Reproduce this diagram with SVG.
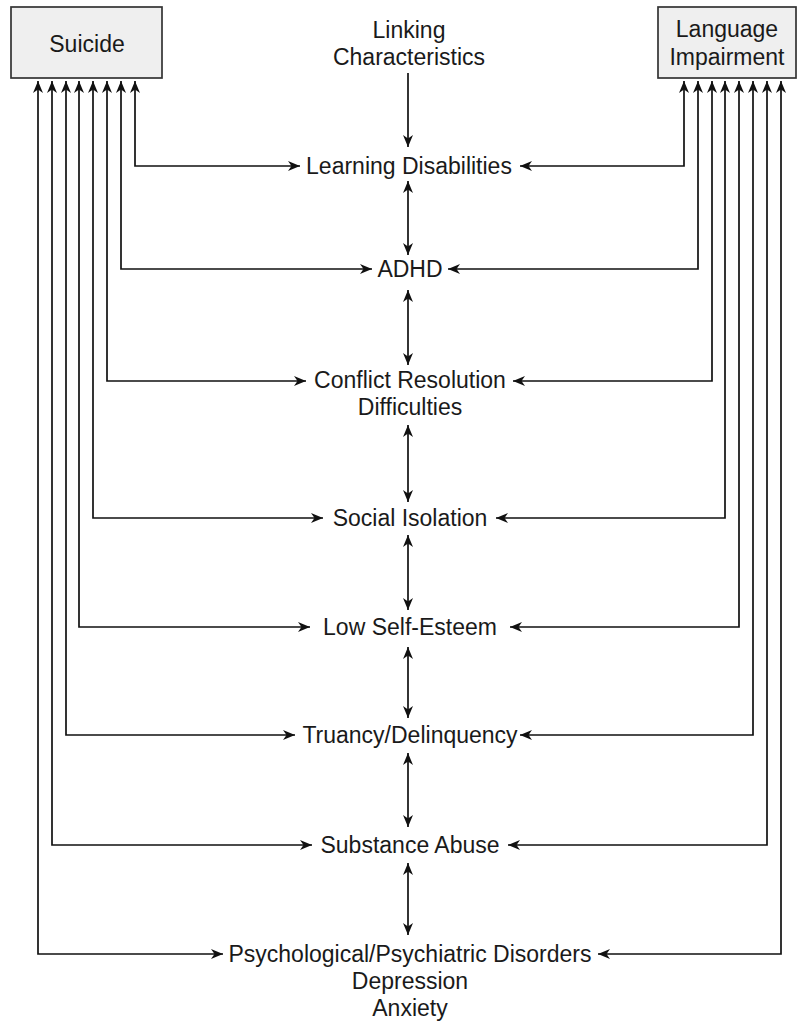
<svg xmlns="http://www.w3.org/2000/svg" width="797" height="1022" viewBox="0 0 797 1022">
<style>
.t{font-family:"Liberation Sans",Arial,sans-serif;font-size:23px;fill:#1a1a1a;text-anchor:middle}
.box{fill:#efefef;stroke:#333;stroke-width:1.7}
.c{fill:none;stroke:#111;stroke-width:1.7}
.b{marker-start:url(#ah);marker-end:url(#ah)}
.e{marker-end:url(#ah)}
</style>
<defs>
<marker id="ah" viewBox="0 0 12 11" refX="12" refY="5.5" markerWidth="12" markerHeight="11" markerUnits="userSpaceOnUse" orient="auto-start-reverse">
<path d="M0,0.5 L12,5.5 L0,10.5 L3.5,5.5 z" fill="#111"/>
</marker>
</defs>
<rect width="797" height="1022" fill="#fff"/>
<g id="suicide"><rect class="box" x="11" y="7" width="151" height="71"/><text class="t" x="87" y="52">Suicide</text></g>
<g id="language"><rect class="box" x="658" y="7" width="138" height="71"/><text class="t" x="727" y="37">Language</text><text class="t" x="727" y="65">Impairment</text></g>
<g id="linking"><text class="t" x="409" y="38">Linking</text><text class="t" x="409" y="65">Characteristics</text></g>
<g id="ld"><text class="t" x="409" y="174">Learning Disabilities</text></g>
<g id="adhd"><text class="t" x="410" y="277">ADHD</text></g>
<g id="conflict"><text class="t" x="410" y="388">Conflict Resolution</text><text class="t" x="410" y="415">Difficulties</text></g>
<g id="social"><text class="t" x="410" y="526">Social Isolation</text></g>
<g id="lowse"><text class="t" x="410" y="635">Low Self-Esteem</text></g>
<g id="truancy"><text class="t" x="410" y="743">Truancy/Delinquency</text></g>
<g id="substance"><text class="t" x="410" y="853">Substance Abuse</text></g>
<g id="psych"><text class="t" x="410" y="962">Psychological/Psychiatric Disorders</text><text class="t" x="410" y="989">Depression</text><text class="t" x="410" y="1016">Anxiety</text></g>
<g id="connectors">
<path class="c e" d="M408,73 V147"/>
<path class="c b" d="M408,181 V255"/>
<path class="c b" d="M408,290 V365"/>
<path class="c b" d="M408,425 V502"/>
<path class="c b" d="M408,535 V610"/>
<path class="c b" d="M408,647 V718"/>
<path class="c b" d="M408,753 V827"/>
<path class="c b" d="M408,863 V935"/>
<path class="c b" d="M300,166 H135 V81"/>
<path class="c b" d="M372,269 H121 V81"/>
<path class="c b" d="M306,381 H107 V81"/>
<path class="c b" d="M323,518 H93 V81"/>
<path class="c b" d="M310,627 H79 V81"/>
<path class="c b" d="M295,735 H66 V81"/>
<path class="c b" d="M312,845 H52 V81"/>
<path class="c b" d="M223,954 H38 V81"/>
<path class="c b" d="M520,166 H684 V81"/>
<path class="c b" d="M448,269 H698 V81"/>
<path class="c b" d="M513,381 H712 V81"/>
<path class="c b" d="M496,518 H725 V81"/>
<path class="c b" d="M510,627 H739 V81"/>
<path class="c b" d="M520,735 H753 V81"/>
<path class="c b" d="M508,845 H767 V81"/>
<path class="c b" d="M598,954 H781 V81"/>
</g>
</svg>
